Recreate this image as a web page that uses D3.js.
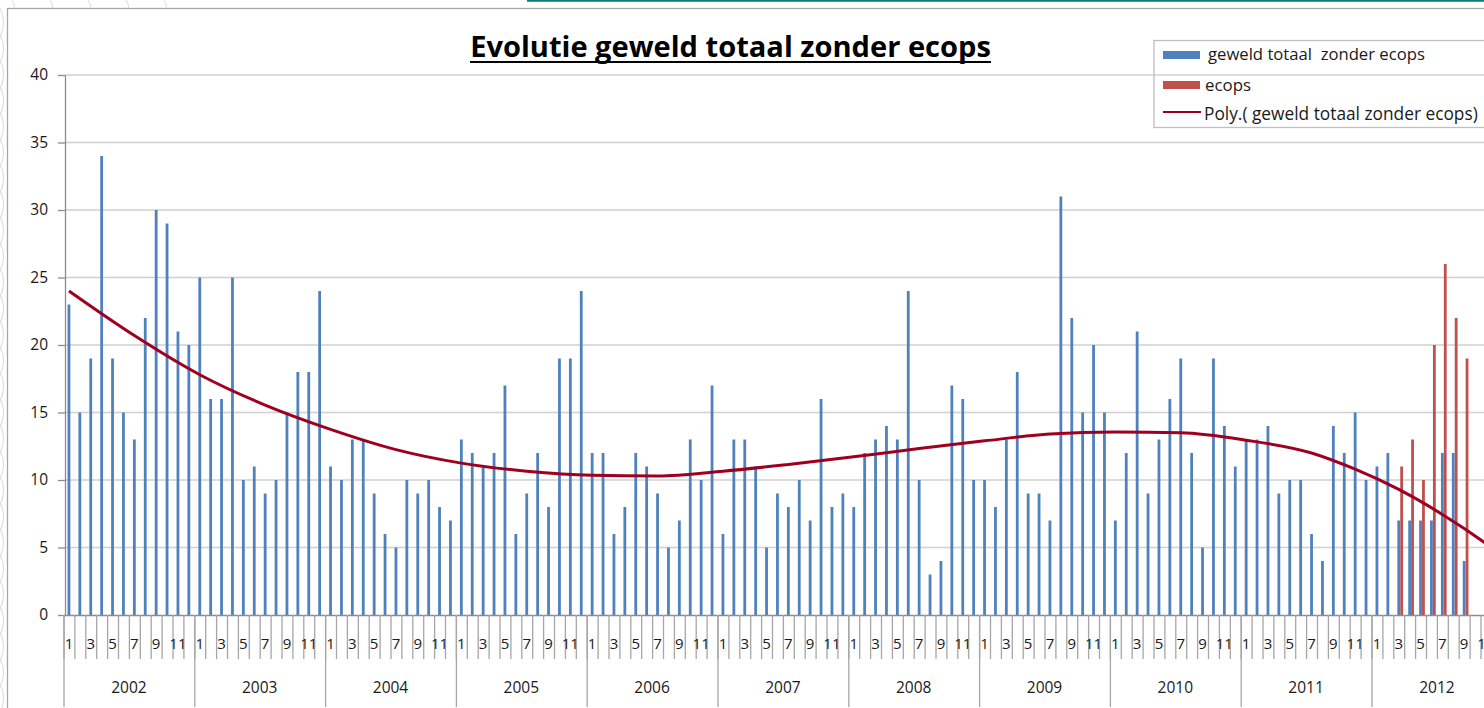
<!DOCTYPE html>
<html><head><meta charset="utf-8">
<script src="https://cdn.jsdelivr.net/npm/d3@7"></script>
<style>body{margin:0;background:#fff;overflow:hidden}svg{display:block}</style>
</head><body>
<svg id="c" width="1484" height="708"></svg>
<script>
// ---------- data ----------
const years = ["2002","2003","2004","2005","2006","2007","2008","2009","2010","2011","2012"];
const monthLabels = ["1","","3","","5","","7","","9","","11",""];
const yTickValues = [0,5,10,15,20,25,30,35,40];
const titleText = "Evolutie geweld totaal zonder ecops";
const legendLabels = ["geweld totaal  zonder ecops", "ecops", "Poly.( geweld totaal zonder ecops)"];

const geweld2002 = [23,15,19,34,19,15,13,22,30,29,21,20];
const geweld2003 = [25,16,16,25,10,11,9,10,15,18,18,24];
const geweld2004 = [11,10,13,13,9,6,5,10,9,10,8,7];
const geweld2005 = [13,12,11,12,17,6,9,12,8,19,19,24];
const geweld2006 = [12,12,6,8,12,11,9,5,7,13,10,17];
const geweld2007 = [6,13,13,11,5,9,8,10,7,16,8,9];
const geweld2008 = [8,12,13,14,13,24,10,3,4,17,16,10];
const geweld2009 = [10,8,13,18,9,9,7,31,22,15,20,15];
const geweld2010 = [7,12,21,9,13,16,19,12,5,19,14,11];
const geweld2011 = [13,13,14,9,10,10,6,4,14,12,15,10];
const geweld2012 = [11,12,7,7,7,7,12,12,4,null,null,null];
const ecops2012  = [null,null,11,13,10,20,26,22,19,null,null,null];

// polynomial trendline (month index from Jan 2002 -> value)
const trendMonth = [0,6,12,18,24,30,36,42,48,54,60,66,72,78,84,90,96,102,108,114,118,122,126,130,132];
const trendValue = [24.0,20.7,17.8,15.55,13.75,12.25,11.25,10.65,10.35,10.3,10.65,11.15,11.72,12.33,12.9,13.4,13.55,13.5,12.95,12.0,10.8,9.3,7.45,5.3,4.1];

// ---------- build ----------
const geweld = [].concat(geweld2002,geweld2003,geweld2004,geweld2005,geweld2006,geweld2007,
  geweld2008,geweld2009,geweld2010,geweld2011,geweld2012);
const ecops = d3.range(120).map(()=>null).concat(ecops2012);
const nMonths = years.length*12;

const svg = d3.select("#c");
const FONT = "'Open Sans', 'Liberation Sans', sans-serif";
const textCol = "#1a1a1a";
const axisCol = "#8c8c8c";

// layout
const x0 = 63.5, step = 10.9;
const x = d3.scaleBand().domain(d3.range(nMonths)).range([x0, x0 + nMonths*step]).padding(0);
const xb = d3.scaleLinear().domain([0,nMonths]).range([x0, x0 + nMonths*step]);
const y = d3.scaleLinear().domain([0,40]).range([615,75]);
const xc = i => x(i) + x.bandwidth()/2;

// background decoration (outside chart frame)
const deco = svg.append("g").attr("stroke","#d3dade").attr("fill","none").attr("stroke-width",1);
d3.range(0,720,26).forEach(v=>{
  deco.append("path").attr("d",`M-6,${v} Q12,${v+20} -4,${v+44}`);
});
d3.range(10,200,38).forEach(v=>{
  deco.append("path").attr("d",`M${v},-2 Q${v+6},4 ${v+4},9`);
});
// chart frame
svg.append("rect").attr("x",7.5).attr("y",8.5).attr("width",1500).attr("height",720)
  .attr("fill","#fff").attr("stroke","#a6a6a6").attr("stroke-width",1.3);
svg.append("line").attr("x1",527).attr("x2",1484).attr("y1",0.8).attr("y2",0.8)
  .attr("stroke","#0b7d75").attr("stroke-width",2);

// gridlines
svg.append("g").selectAll("line").data(yTickValues.filter(v=>v>0)).join("line")
  .attr("x1",65).attr("x2",1484).attr("y1",d=>y(d)).attr("y2",d=>y(d))
  .attr("stroke","#d0d0d0").attr("stroke-width",1.3);

// y axis
const yAxis = svg.append("g").attr("transform","translate(65,0)")
  .call(d3.axisLeft(y).tickValues(yTickValues).tickSize(7).tickPadding(10).tickSizeOuter(0));
yAxis.select(".domain").attr("stroke",axisCol).attr("stroke-width",1.3);
yAxis.selectAll(".tick line").attr("stroke",axisCol).attr("stroke-width",1.3);
yAxis.selectAll("text").attr("font-family",FONT).attr("font-size",15.5).attr("fill",textCol);

// bars
const bw = 2.8;
svg.append("g").selectAll("rect").data(geweld.map((v,i)=>({v,i})).filter(d=>d.v!=null)).join("rect")
  .attr("x",d=>xc(d.i)-bw/2).attr("width",bw)
  .attr("y",d=>y(d.v)).attr("height",d=>y(0)-y(d.v)).attr("fill","#4f81bd");
svg.append("g").selectAll("rect").data(ecops.map((v,i)=>({v,i})).filter(d=>d.v!=null)).join("rect")
  .attr("x",d=>xc(d.i)+bw/2+0.1).attr("width",bw)
  .attr("y",d=>y(d.v)).attr("height",d=>y(0)-y(d.v)).attr("fill","#c0504d");

// x axis: month ticks, year ticks
const xAxisM = svg.append("g").attr("transform","translate(0,615)")
  .call(d3.axisBottom(xb).tickValues(d3.range(0,nMonths+1)).tickSize(44).tickFormat("").tickSizeOuter(0));
xAxisM.select(".domain").attr("stroke",axisCol).attr("stroke-width",1.4);
xAxisM.selectAll(".tick line").attr("stroke","#a6a6a6").attr("stroke-width",1.3);
const xAxisY = svg.append("g").attr("transform","translate(0,615)")
  .call(d3.axisBottom(xb).tickValues(d3.range(0,nMonths+1,12)).tickSize(92).tickFormat("").tickSizeOuter(0));
xAxisY.select(".domain").remove();
xAxisY.selectAll(".tick line").attr("stroke","#a6a6a6").attr("stroke-width",1.3);

// month labels
svg.append("g").selectAll("text").data(d3.range(nMonths)).join("text")
  .attr("x",i=>xc(i)).attr("y",648.5).attr("text-anchor","middle")
  .attr("font-family",FONT).attr("font-size",15).attr("fill",textCol)
  .text(i=>monthLabels[i%12]);
// year labels
svg.append("g").selectAll("text").data(years).join("text")
  .attr("x",(d,k)=>xb(k*12+6)).attr("y",692.5).attr("text-anchor","middle")
  .attr("font-family",FONT).attr("font-size",15.5).attr("fill",textCol)
  .text(d=>d);

// trend line
const line = d3.line().x(d=>xc(0)+d[0]*step).y(d=>y(d[1])).curve(d3.curveMonotoneX);
svg.append("path").datum(trendMonth.map((m,k)=>[m,trendValue[k]]))
  .attr("d",line).attr("fill","none").attr("stroke","#a0001f").attr("stroke-width",3);

// fit text helper
function fit(sel, target){
  const n = sel.node(); const w = n.getComputedTextLength();
  const fs = parseFloat(sel.attr("font-size"));
  sel.attr("font-size", fs*target/w);
}

// title
const title = svg.append("text").attr("x",730.5).attr("y",57).attr("text-anchor","middle")
  .attr("font-family",FONT).attr("font-weight","bold").attr("font-size",27).attr("fill","#000")
  .text(titleText);
fit(title, 521);
svg.append("line").attr("x1",470).attr("x2",991).attr("y1",62).attr("y2",62)
  .attr("stroke","#000").attr("stroke-width",2);

// legend
const lg = svg.append("g");
lg.append("rect").attr("x",1154).attr("y",40.5).attr("width",400).attr("height",87)
  .attr("fill","none").attr("stroke","#bfbfbf").attr("stroke-width",1.3);
lg.append("rect").attr("x",1163).attr("y",51).attr("width",37).attr("height",8).attr("fill","#4f81bd");
lg.append("rect").attr("x",1163).attr("y",81).attr("width",37).attr("height",8).attr("fill","#c0504d");
lg.append("line").attr("x1",1163).attr("x2",1201).attr("y1",112).attr("y2",112)
  .attr("stroke","#a0001f").attr("stroke-width",2.2);
const lt = [[1208,60,217],[1205,90.5,46],[1204,119.5,274]];
legendLabels.forEach((s,k)=>{
  const t = lg.append("text").attr("x",lt[k][0]).attr("y",lt[k][1])
    .attr("font-family",FONT).attr("font-size",16).attr("fill",textCol)
    .style("white-space","pre").text(s);
  fit(t, lt[k][2]);
});
</script>
</body></html>
